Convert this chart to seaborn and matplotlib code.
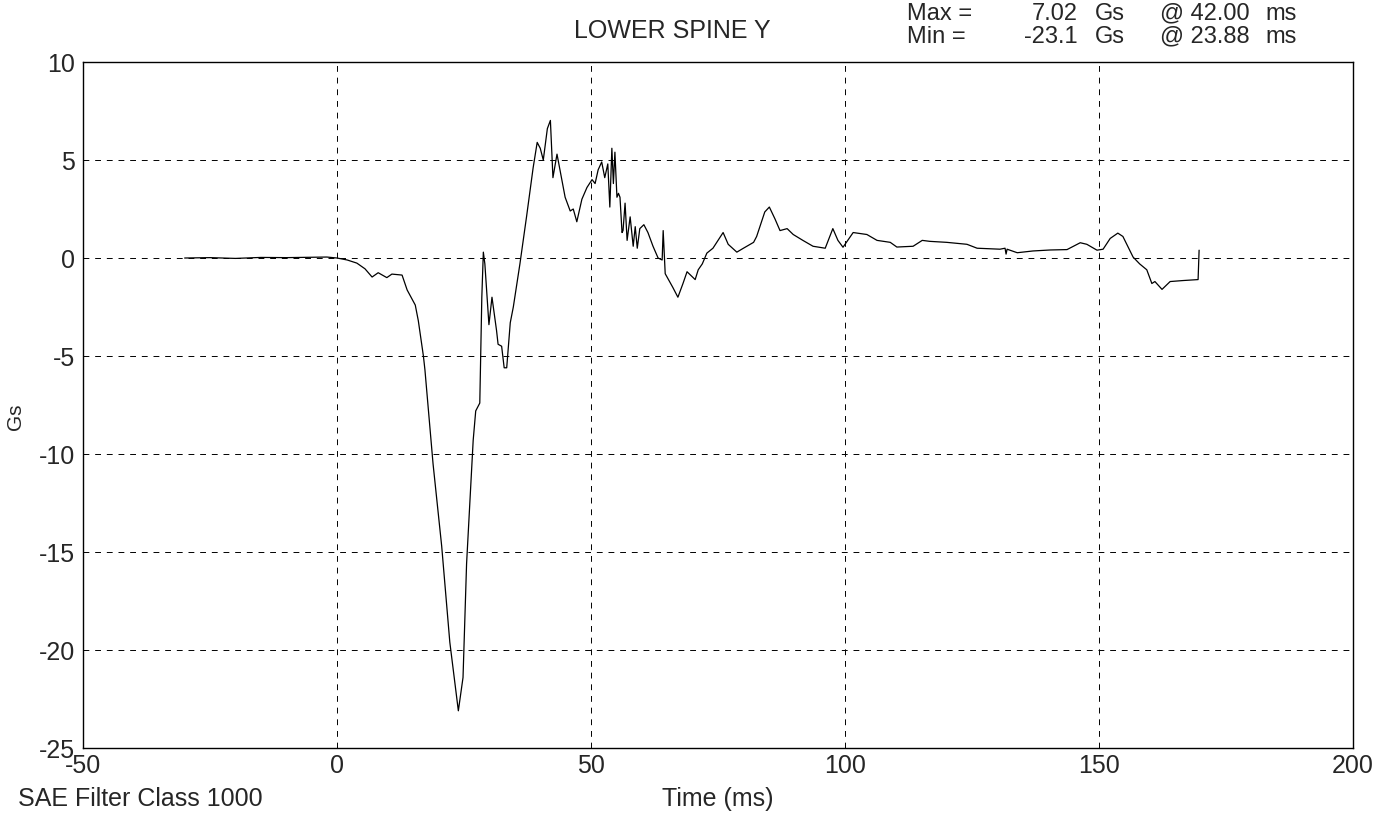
import pandas as pd
import matplotlib
matplotlib.use("Agg")
import matplotlib.pyplot as plt
import seaborn as sns

time_ms = [-30, -25, -20, -15, -10, -5, -2, 0, 2, 3.9, 5.5, 6.9, 8.1, 9.8, 10.8, 12.8,
           13.8, 15.4, 16.0, 17.0, 17.3, 18.9, 20.6, 22.2, 23.88, 24.8, 25.5, 26.2,
           26.8, 27.3, 28.1, 28.5, 28.8, 29.1, 29.9, 30.5, 31.4, 31.7, 32.4, 32.9,
           33.4, 34.1, 34.7, 36.0, 37.3, 38.6, 39.4, 40.0, 40.6, 41.4, 42.0, 42.5,
           43.3, 44.9, 45.9, 46.5, 47.2, 48.2, 49.2, 50.2, 50.8, 51.4, 52.1, 52.7,
           53.3, 53.7, 54.1, 54.4, 54.7, 55.1, 55.4, 55.7, 56.1, 56.3, 56.7, 57.1,
           57.7, 58.3, 58.7, 59.1, 59.6, 60.4, 61.2, 62.2, 63.2, 64.0, 64.2, 64.6,
           66.1, 67.1, 68.1, 68.9, 70.5, 71.1, 71.9, 72.8, 74.0, 76.0, 77.0, 78.7,
           80.0, 82.0, 82.6, 84.2, 85.1, 86.2, 87.2, 88.6, 89.8, 91.7, 93.7, 96.1,
           97.6, 98.6, 99.6, 101.6, 104.3, 106.3, 108.9, 110.2, 113.4, 115.2, 116.7,
           120.0, 124.0, 126.0, 130.5, 131.5, 131.7, 131.9, 133.9, 137.0, 140.4,
           143.7, 146.3, 147.6, 149.6, 150.8, 152.2, 153.7, 154.7, 156.7, 158.0,
           159.4, 160.4, 161.0, 162.4, 164.0, 166.5, 169.5, 169.7]
gs_values = [0.0, 0.02, -0.02, 0.03, 0.02, 0.04, 0.05, 0.0, -0.1, -0.26, -0.55, -0.97, -0.75,
             -1.0, -0.82, -0.87, -1.63, -2.4, -3.2, -5.0, -5.7, -10.5, -14.7, -19.6, -23.1,
             -21.4, -15.6, -12.2, -9.3, -7.8, -7.4, -2.0, 0.3, -0.3, -3.4, -2.0, -3.7,
             -4.4, -4.5, -5.6, -5.6, -3.3, -2.5, -0.3, 2.1, 4.6, 5.9, 5.6, 5.0, 6.6,
             7.02, 4.1, 5.3, 3.1, 2.4, 2.5, 1.85, 3.0, 3.6, 4.0, 3.8, 4.5, 4.9, 4.1,
             4.8, 2.6, 5.6, 3.8, 5.4, 3.1, 3.3, 3.1, 1.3, 1.4, 2.8, 0.9, 2.1, 0.6, 1.6,
             0.5, 1.5, 1.7, 1.3, 0.6, 0.0, -0.1, 1.4, -0.8, -1.5, -2.0, -1.3, -0.7,
             -1.1, -0.6, -0.3, 0.25, 0.5, 1.3, 0.7, 0.3, 0.5, 0.8, 1.1, 2.35, 2.6, 2.0,
             1.4, 1.5, 1.2, 0.9, 0.6, 0.5, 1.5, 0.9, 0.55, 1.3, 1.2, 0.9, 0.8, 0.56,
             0.6, 0.9, 0.85, 0.8, 0.7, 0.5, 0.45, 0.5, 0.2, 0.45, 0.27, 0.36, 0.41,
             0.43, 0.78, 0.7, 0.4, 0.45, 1.0, 1.27, 1.1, 0.05, -0.3, -0.6, -1.3, -1.2,
             -1.6, -1.2, -1.15, -1.1, 0.4]

x_ticks = [-50, 0, 50, 100, 150, 200]
y_ticks = [10, 5, 0, -5, -10, -15, -20, -25]

# peak summary shown in the header
stat_names = ['Max =', 'Min =']
stat_values = ['7.02', '-23.1']
stat_times = ['@ 42.00', '@ 23.88']

sns.set_style("white")
plt.rcParams['font.family'] = ['Liberation Sans', 'DejaVu Sans']
plt.rcParams['axes.unicode_minus'] = False

df = pd.DataFrame({'Time': time_ms, 'Gs': gs_values})

fig = plt.figure(figsize=(13.91, 8.16), dpi=100)
ax = fig.add_axes([0.0597, 0.0833, 0.913, 0.8407])

sns.lineplot(data=df, x='Time', y='Gs', sort=False, estimator=None,
             color='black', linewidth=0.9, ax=ax)

ax.set_xlim(-50, 200)
ax.set_ylim(-25, 10)
ax.set_xticks(x_ticks)
ax.set_yticks(y_ticks)
ax.tick_params(axis='both', labelsize=18, length=0)
ax.tick_params(axis='x', pad=4)
ax.tick_params(axis='y', pad=6)
ax.grid(True, color='black', linestyle=(0, (6, 6)), linewidth=0.7)
for spine in ax.spines.values():
    spine.set_color('black')
    spine.set_linewidth(1.0)

ax.set_xlabel('Time (ms)', fontsize=18, va='center')
ax.set_ylabel('Gs', fontsize=15, va='center')
ax.xaxis.set_label_coords(0.5, -0.0743)
ax.yaxis.set_label_coords(-0.0535, 0.483)

fig.text(0.483, 0.962, 'LOWER SPINE Y', fontsize=18, ha='center', va='center')
for row, y in enumerate([0.983, 0.955]):
    fig.text(0.652, y, stat_names[row], fontsize=17, ha='left', va='center')
    fig.text(0.775, y, stat_values[row], fontsize=17, ha='right', va='center')
    fig.text(0.787, y, 'Gs', fontsize=17, ha='left', va='center')
    fig.text(0.8986, y, stat_times[row], fontsize=17, ha='right', va='center')
    fig.text(0.910, y, 'ms', fontsize=17, ha='left', va='center')
fig.text(0.013, 0.021, 'SAE Filter Class 1000', fontsize=18, ha='left', va='center')

fig.savefig('out.png', dpi=100)
plt.close(fig)
